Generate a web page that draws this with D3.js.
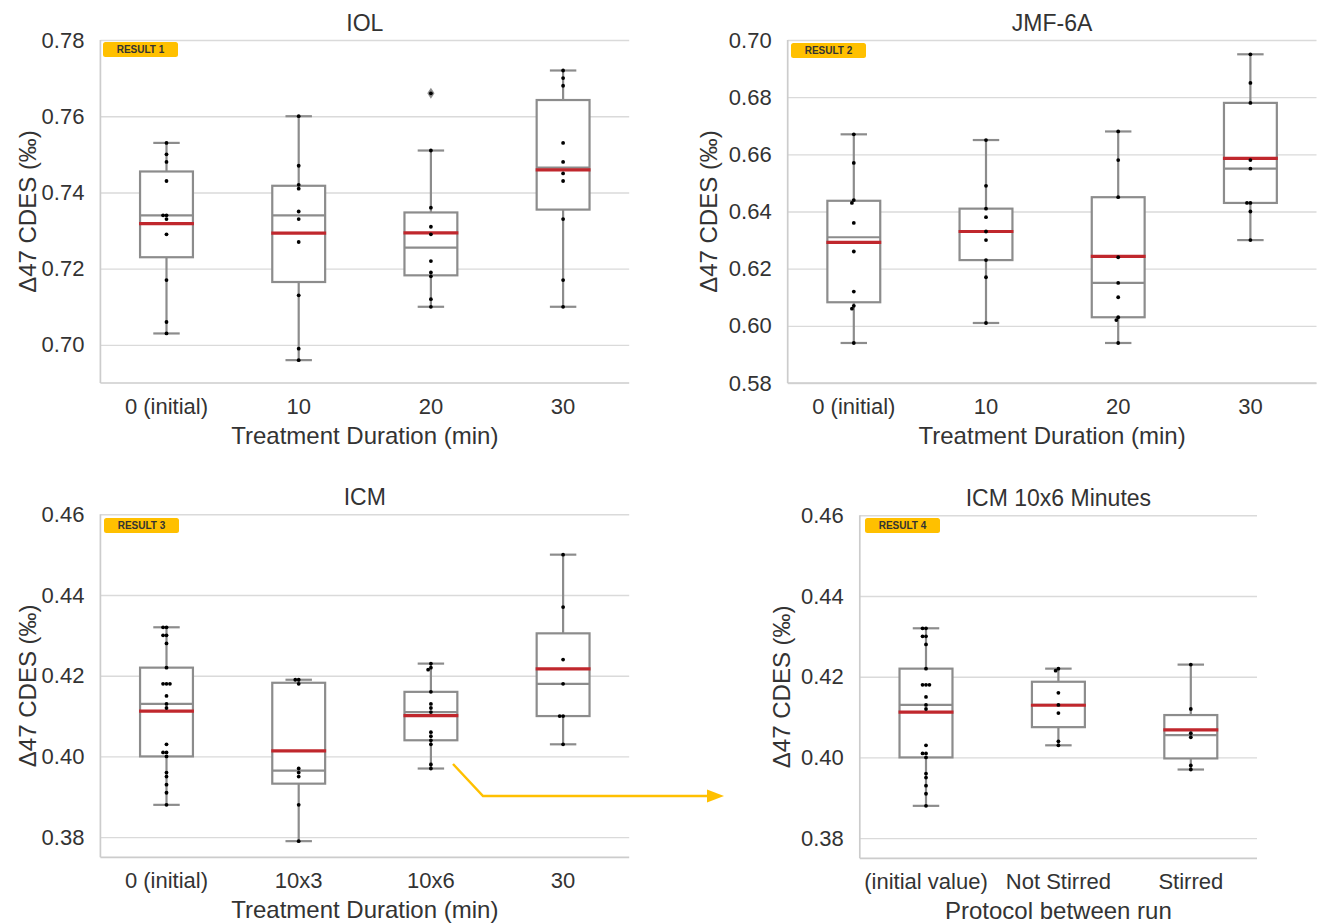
<!DOCTYPE html>
<html>
<head>
<meta charset="utf-8">
<script src="https://cdn.jsdelivr.net/npm/d3@7"></script>
<style>
  body { margin: 0; background: #fff; }
  svg text { font-family: "Liberation Sans", Arial, sans-serif; fill: #333; }
</style>
</head>
<body>
<div class="canvas"></div>
<script>
// ---- data ----
const iolCategories = ["0 (initial)", "10", "20", "30"];
const iolValues = [
  [0.753, 0.750, 0.748, 0.743, 0.734, 0.734, 0.733, 0.729, 0.717, 0.706, 0.703],
  [0.760, 0.747, 0.742, 0.741, 0.735, 0.733, 0.727, 0.713, 0.699, 0.696],
  [0.766, 0.751, 0.736, 0.731, 0.729, 0.722, 0.719, 0.718, 0.712, 0.710],
  [0.772, 0.770, 0.768, 0.753, 0.748, 0.745, 0.743, 0.733, 0.717, 0.710]
];
const iolTicks = [0.70, 0.72, 0.74, 0.76, 0.78];

const jmfCategories = ["0 (initial)", "10", "20", "30"];
const jmfValues = [
  [0.667, 0.657, 0.644, 0.643, 0.636, 0.626, 0.612, 0.607, 0.606, 0.594],
  [0.665, 0.649, 0.641, 0.638, 0.633, 0.630, 0.623, 0.617, 0.601],
  [0.668, 0.658, 0.645, 0.624, 0.615, 0.610, 0.603, 0.602, 0.594],
  [0.695, 0.685, 0.678, 0.658, 0.655, 0.643, 0.643, 0.640, 0.630]
];
const jmfTicks = [0.58, 0.60, 0.62, 0.64, 0.66, 0.68, 0.70];

const icmInitial = [0.432, 0.432, 0.430, 0.430, 0.428, 0.422, 0.418, 0.418, 0.418, 0.415, 0.413,
  0.412, 0.403, 0.401, 0.401, 0.400, 0.396, 0.395, 0.393, 0.391, 0.388];
const icm10x3 = [0.419, 0.419, 0.418, 0.397, 0.396, 0.395, 0.388, 0.379];
const icmNotStirred = [0.422, 0.4215, 0.416, 0.413, 0.411, 0.404, 0.403];
const icmStirred = [0.423, 0.412, 0.406, 0.405, 0.398, 0.397];
const icm30 = [0.450, 0.437, 0.424, 0.418, 0.410, 0.410, 0.403];
const icmTicks = [0.38, 0.40, 0.42, 0.44, 0.46];

const icmCategories = ["0 (initial)", "10x3", "10x6", "30"];
const icmValues = [icmInitial, icm10x3, icmNotStirred.concat(icmStirred), icm30];

const protocolCategories = ["(initial value)", "Not Stirred", "Stirred"];
const protocolValues = [icmInitial, icmNotStirred, icmStirred];

// ---- layout ----
const panels = [
  { title: "IOL", cats: iolCategories, values: iolValues, ticks: iolTicks, domain: [0.69, 0.78],
    x0: 100.4, x1: 629.2, y0: 40, y1: 383, yTitleX: 28, xTitle: "Treatment Duration (min)",
    badge: "RESULT 1", bx: 103, by: 42 },
  { title: "JMF-6A", cats: jmfCategories, values: jmfValues, ticks: jmfTicks, domain: [0.58, 0.70],
    x0: 787.7, x1: 1316.5, y0: 40, y1: 383, yTitleX: 709, xTitle: "Treatment Duration (min)",
    badge: "RESULT 2", bx: 791, by: 43 },
  { title: "ICM", cats: icmCategories, values: icmValues, ticks: icmTicks, domain: [0.375, 0.46],
    x0: 100.4, x1: 629.2, y0: 514.3, y1: 857.3, yTitleX: 28, xTitle: "Treatment Duration (min)",
    badge: "RESULT 3", bx: 104, by: 518 },
  { title: "ICM 10x6 Minutes", cats: protocolCategories, values: protocolValues, ticks: icmTicks, domain: [0.375, 0.46],
    x0: 859.8, x1: 1257, y0: 515.3, y1: 858.3, yTitleX: 781.5, xTitle: "Protocol between run",
    badge: "RESULT 4", bx: 865, by: 518 }
];

const boxColor = "#8c8c8c";
const meanColor = "#c0272d";
const gridColor = "#dadada";
const dotR = 1.9;

const svg = d3
  .select(".canvas")
  .append("svg")
  .attr("width", 1322)
  .attr("height", 923);

// beeswarm offsets, nearest to centre first
function swarm(vals, y) {
  const d = dotR * 1.8;
  const pts = vals.map((v) => ({ v, py: y(v) })).sort((a, b) => a.py - b.py);
  const placed = [];
  pts.forEach((p) => {
    const near = placed.filter((q) => Math.abs(q.py - p.py) < d);
    const cands = [0];
    near.forEach((q) => {
      const dx = Math.sqrt(d * d - (q.py - p.py) ** 2);
      cands.push(q.dx + dx, q.dx - dx);
    });
    cands.sort((a, b) => Math.abs(a) - Math.abs(b) || a - b);
    p.dx = cands.find((c) =>
      near.every((q) => (q.dx - c) ** 2 + (q.py - p.py) ** 2 >= d * d - 1e-6)
    );
    placed.push(p);
  });
  return pts;
}

function boxStats(vals) {
  const s = vals.slice().sort(d3.ascending);
  const q1 = d3.quantile(s, 0.25);
  const q3 = d3.quantile(s, 0.75);
  const med = d3.quantile(s, 0.5);
  const iqr = q3 - q1;
  const inside = s.filter((v) => v >= q1 - 1.5 * iqr && v <= q3 + 1.5 * iqr);
  return {
    q1, q3, med,
    mean: d3.mean(s),
    lo: d3.min(inside),
    hi: d3.max(inside),
    fliers: s.filter((v) => v < q1 - 1.5 * iqr || v > q3 + 1.5 * iqr)
  };
}

panels.forEach((p) => {
  const g = svg.append("g");
  const x = d3.scaleBand().domain(p.cats).range([p.x0, p.x1]);
  const y = d3.scaleLinear().domain(p.domain).range([p.y1, p.y0]);
  const bw = x.bandwidth() * 0.4;

  // y axis + grid
  const yAxis = g
    .append("g")
    .attr("transform", `translate(${p.x0},0)`)
    .call(
      d3.axisLeft(y)
        .tickValues(p.ticks)
        .tickSize(-(p.x1 - p.x0))
        .tickPadding(16)
        .tickFormat(d3.format(".2f"))
    );
  yAxis.select(".domain").remove();
  yAxis.selectAll("line").attr("stroke", gridColor).attr("stroke-width", 1.4);
  yAxis.selectAll("text").attr("font-size", 22).attr("fill", "#333");

  // spines
  g.append("line")
    .attr("x1", p.x0).attr("x2", p.x0).attr("y1", p.y0).attr("y2", p.y1)
    .attr("stroke", "#cccccc").attr("stroke-width", 1.7);
  g.append("line")
    .attr("x1", p.x0).attr("x2", p.x1).attr("y1", p.y1).attr("y2", p.y1)
    .attr("stroke", "#cccccc").attr("stroke-width", 1.7);

  // x axis
  const xAxis = g
    .append("g")
    .attr("transform", `translate(0,${p.y1})`)
    .call(d3.axisBottom(x).tickSize(0).tickPadding(15.5));
  xAxis.select(".domain").remove();
  xAxis.selectAll("text").attr("font-size", 22).attr("fill", "#333");

  // titles
  g.append("text")
    .attr("x", (p.x0 + p.x1) / 2).attr("y", p.y0 - 9.5)
    .attr("text-anchor", "middle").attr("font-size", 23)
    .text(p.title);
  g.append("text")
    .attr("x", (p.x0 + p.x1) / 2).attr("y", p.y1 + 60.5)
    .attr("text-anchor", "middle").attr("font-size", 24)
    .text(p.xTitle);
  g.append("text")
    .attr("transform", `translate(${p.yTitleX},${(p.y0 + p.y1) / 2}) rotate(-90)`)
    .attr("text-anchor", "middle").attr("dy", "0.35em").attr("font-size", 24)
    .text("Δ47 CDES (‰)");

  // boxes
  p.cats.forEach((c, i) => {
    const st = boxStats(p.values[i]);
    const cx = x(c) + x.bandwidth() / 2;
    const bg = g.append("g");
    bg.append("line")
      .attr("x1", cx).attr("x2", cx).attr("y1", y(st.hi)).attr("y2", y(st.q3))
      .attr("stroke", boxColor).attr("stroke-width", 2.2);
    bg.append("line")
      .attr("x1", cx).attr("x2", cx).attr("y1", y(st.q1)).attr("y2", y(st.lo))
      .attr("stroke", boxColor).attr("stroke-width", 2.2);
    [st.hi, st.lo].forEach((v) =>
      bg.append("line")
        .attr("x1", cx - bw / 4).attr("x2", cx + bw / 4).attr("y1", y(v)).attr("y2", y(v))
        .attr("stroke", boxColor).attr("stroke-width", 2.2)
    );
    bg.append("rect")
      .attr("x", cx - bw / 2).attr("y", y(st.q3))
      .attr("width", bw).attr("height", y(st.q1) - y(st.q3))
      .attr("fill", "#fff").attr("stroke", boxColor).attr("stroke-width", 2.2);
    bg.append("line")
      .attr("x1", cx - bw / 2).attr("x2", cx + bw / 2).attr("y1", y(st.med)).attr("y2", y(st.med))
      .attr("stroke", boxColor).attr("stroke-width", 2.2);
    bg.append("line")
      .attr("x1", cx - bw / 2 - 1).attr("x2", cx + bw / 2 + 1).attr("y1", y(st.mean)).attr("y2", y(st.mean))
      .attr("stroke", meanColor).attr("stroke-width", 3.2);
    st.fliers.forEach((v) =>
      bg.append("path")
        .attr("d", `M${cx},${y(v) - 5.5}L${cx + 3.6},${y(v)}L${cx},${y(v) + 5.5}L${cx - 3.6},${y(v)}Z`)
        .attr("fill", boxColor)
    );
    // swarm dots
    bg.selectAll("circle")
      .data(swarm(p.values[i], y))
      .enter()
      .append("circle")
      .attr("cx", (d) => cx + d.dx)
      .attr("cy", (d) => d.py)
      .attr("r", dotR)
      .attr("fill", "#000");
  });

  // badge
  g.append("rect")
    .attr("x", p.bx).attr("y", p.by).attr("width", 75).attr("height", 15)
    .attr("rx", 2.5).attr("fill", "#ffc000");
  g.append("text")
    .attr("x", p.bx + 37.5).attr("y", p.by + 7.5).attr("dy", "0.36em")
    .attr("text-anchor", "middle").attr("font-size", 10).attr("font-weight", "bold")
    .attr("fill", "#1a1a1a")
    .text(p.badge);
});

// arrow from 10x6 box to the protocol panel
svg.append("polyline")
  .attr("points", "453,764 483,796 709,796")
  .attr("fill", "none").attr("stroke", "#ffc000").attr("stroke-width", 2.5);
svg.append("path")
  .attr("d", "M707,789.5L724,796L707,802.5Z")
  .attr("fill", "#ffc000");
</script>
</body>
</html>
